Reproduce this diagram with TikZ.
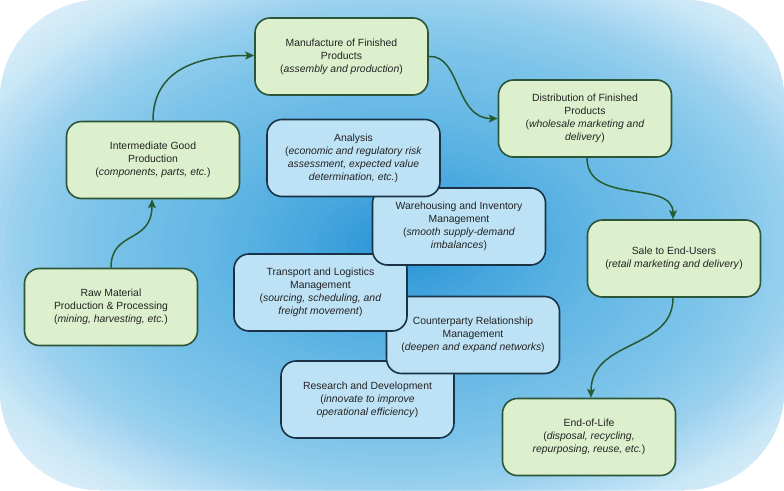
\documentclass[tikz,border=0pt]{standalone}
\usepackage{fontspec}
\setmainfont{Liberation Sans}
\usetikzlibrary{arrows.meta}
\definecolor{bgA}{RGB}{36,146,213}
\definecolor{bgB}{RGB}{70,166,222}
\definecolor{bgC}{RGB}{98,182,228}
\definecolor{bgD}{RGB}{124,195,233}
\definecolor{bgE}{RGB}{152,208,238}
\definecolor{bgF}{RGB}{200,230,246}
\definecolor{bgG}{RGB}{236,246,252}
\definecolor{gfill}{RGB}{220,240,205}
\definecolor{gline}{RGB}{45,85,55}
\definecolor{bfill}{RGB}{190,226,245}
\definecolor{bline}{RGB}{25,50,70}
\definecolor{txt}{RGB}{34,34,34}
\definecolor{arr}{RGB}{40,90,50}
\begin{document}
\begin{tikzpicture}[x=1pt,y=-1pt,
  box/.style={rectangle, rounded corners=15pt, minimum width=173pt, minimum height=77pt,
    line width=1.6pt, align=center, text=txt, font=\fontsize{10.4}{13}\selectfont, inner sep=2pt},
  gbox/.style={box, fill=gfill, draw=gline},
  bbox/.style={box, fill=bfill, draw=bline},
  flow/.style={draw=arr, line width=1.5pt, -{Stealth[length=9pt,width=8pt,inset=2pt]}}]
\useasboundingbox (0,0) rectangle (784,490);
\begin{scope}
\clip[rounded corners=100pt] (0,0) rectangle (784,490);
\foreach \ro/\ri/\co/\ci in {1.45/1.2/bgG/bgF, 1.2/1.0/bgF/bgE, 1.0/0.8/bgE/bgD, 0.8/0.5/bgD/bgC, 0.5/0.25/bgC/bgB, 0.25/0/bgB/bgA}{
  \foreach \k in {0,...,9}{
    \pgfmathsetmacro\rr{\ro-(\ro-\ri)*\k/10}
    \pgfmathtruncatemacro\pp{100-10*\k}
    \fill[\co!\pp!\ci] (405,245) ellipse ({392*\rr} and {245*\rr});
  }}
\end{scope}
% green process boxes
\node[gbox] (manu) at (341.5,56.5) {Manufacture of Finished\\Products\\(\textit{assembly and production})};
\node[gbox] (dist) at (585,118.5) {Distribution of Finished\\Products\\(\textit{wholesale marketing and}\\\textit{delivery})};
\node[gbox] (inter) at (153,160) {Intermediate Good\\Production\\(\textit{components, parts, etc.})};
\node[gbox] (raw) at (111,307) {Raw Material\\Production \& Processing\\(\textit{mining, harvesting, etc.})};
\node[gbox] (sale) at (674,258.5) {Sale to End-Users\\(\textit{retail marketing and delivery})};
\node[gbox] (end) at (589,437) {End-of-Life\\(\textit{disposal, recycling,}\\\textit{repurposing, reuse, etc.})};
% blue support boxes
\node[bbox] (rd) at (367.5,399.5) {Research and Development\\(\textit{innovate to improve}\\\textit{operational efficiency})};
\node[bbox] (cp) at (473,335) {Counterparty Relationship\\Management\\(\textit{deepen and expand networks})};
\node[bbox] (tl) at (320.5,292.5) {Transport and Logistics\\Management\\(\textit{sourcing, scheduling, and}\\\textit{freight movement})};
\node[bbox] (wh) at (459,226.5) {Warehousing and Inventory\\Management\\(\textit{smooth supply-demand}\\\textit{imbalances})};
\node[bbox] (an) at (353.5,158) {Analysis\\(\textit{economic and regulatory risk}\\\textit{assessment, expected value}\\\textit{determination, etc.})};
% connectors
\draw[flow] (raw.north) .. controls +(0,-38) and +(0,45) .. ([xshift=-1pt]inter.south);
\draw[flow] (inter.north) .. controls +(0,-52) and +(-55,0) .. ([yshift=1pt]manu.west);
\draw[flow] (manu.east) .. controls +(32,-2) and +(-43,0) .. (dist.west);
\draw[flow] ([xshift=2pt]dist.south) .. controls +(0,48) and +(0,-40) .. ([xshift=-1pt]sale.north);
\draw[flow] ([xshift=-1pt]sale.south) .. controls +(0,53) and +(0,-59) .. ([xshift=2pt]end.north);
\end{tikzpicture}
\end{document}
